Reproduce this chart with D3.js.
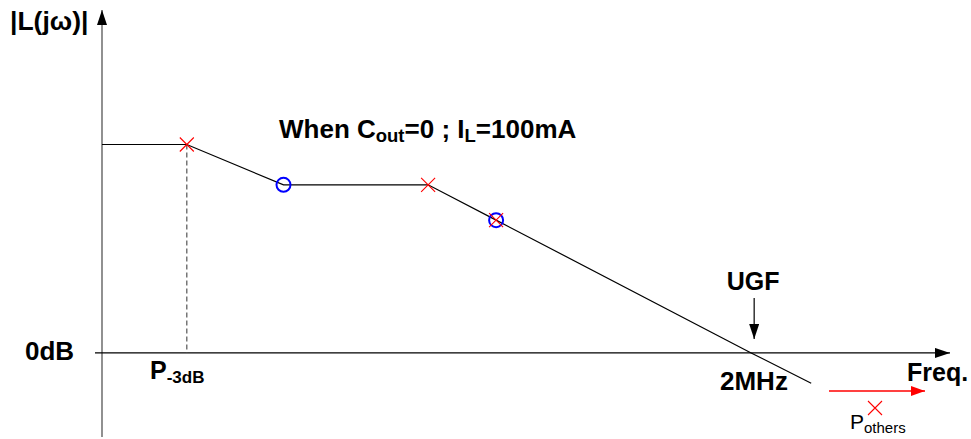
<!DOCTYPE html>
<html>
<head>
<meta charset="utf-8">
<script src="https://cdn.jsdelivr.net/npm/d3@7"></script>
<style>
  html, body { margin: 0; padding: 0; background: #fff; }
  svg { display: block; }
  text { font-family: "Liberation Sans", Arial, sans-serif; }
</style>
</head>
<body>
<script>
// Loop gain magnitude, straight-line asymptotes (frequency in Hz, gain in dB)
const freqs = [20, 90, 500, 6500, 21700, 2e6, 5.8e6];
const gains = [62, 62, 50, 50, 39.5, 0, -9];

// Poles (red crosses) and zeros (blue circles)
const poleFreqs = [90, 6500, 21700];
const zeroFreqs = [500, 21700];

const ugfFreq = 2e6;
const p3dbFreq = 90;

const W = 971, H = 439;
const svg = d3.select("body").append("svg").attr("width", W).attr("height", H);

const x = d3.scaleLog().domain([20, 6.8e7]).range([102, 950]);
const y = d3.scaleLinear().domain([-25, 102]).range([437, 10]);

const gainAt = f => {
  for (let i = 1; i < freqs.length; i++) {
    if (f <= freqs[i]) {
      const t = (Math.log10(f) - Math.log10(freqs[i - 1])) / (Math.log10(freqs[i]) - Math.log10(freqs[i - 1]));
      return gains[i - 1] + t * (gains[i] - gains[i - 1]);
    }
  }
  return gains[gains.length - 1];
};

const defs = svg.append("defs");
function marker(id, color, w, h) {
  defs.append("marker").attr("id", id)
    .attr("viewBox", `0 0 ${w} ${h}`).attr("refX", w).attr("refY", h / 2)
    .attr("markerWidth", w).attr("markerHeight", h).attr("markerUnits", "userSpaceOnUse")
    .attr("orient", "auto")
    .append("path").attr("d", `M0,0L${w},${h / 2}L0,${h}Z`).attr("fill", color);
}
marker("arrBlack", "#000", 15, 10);
marker("arrRed", "#f00", 14, 10);

const axisColor = "#555";

// Vertical axis
svg.append("line")
  .attr("x1", x(20)).attr("x2", x(20))
  .attr("y1", y(-25)).attr("y2", y(102))
  .attr("stroke", axisColor).attr("stroke-width", 1.3)
  .attr("marker-end", "url(#arrBlack)");

// Horizontal 0 dB axis
svg.append("line")
  .attr("x1", x(20) - 7).attr("x2", x(6.8e7))
  .attr("y1", y(0)).attr("y2", y(0))
  .attr("stroke", "#000").attr("stroke-width", 1.2)
  .attr("marker-end", "url(#arrBlack)");

// Dashed drop line at the -3dB pole
svg.append("line")
  .attr("x1", x(p3dbFreq)).attr("x2", x(p3dbFreq))
  .attr("y1", y(gainAt(p3dbFreq))).attr("y2", y(0))
  .attr("stroke", "#555").attr("stroke-width", 1.2)
  .attr("stroke-dasharray", "5,3");

// Asymptotic magnitude curve
const line = d3.line().x(d => x(d[0])).y(d => y(d[1]));
svg.append("path")
  .datum(freqs.map((f, i) => [f, gains[i]]))
  .attr("d", line)
  .attr("fill", "none").attr("stroke", "#000").attr("stroke-width", 1.2);

// Zeros
svg.selectAll(".zero").data(zeroFreqs).enter().append("circle")
  .attr("cx", d => x(d)).attr("cy", d => y(gainAt(d)))
  .attr("r", 7).attr("fill", "none").attr("stroke", "#00f").attr("stroke-width", 2);

// Poles
function cross(g, cx, cy, s) {
  g.append("path")
    .attr("d", `M${cx - s},${cy - s}L${cx + s},${cy + s}M${cx - s},${cy + s}L${cx + s},${cy - s}`)
    .attr("stroke", "#f00").attr("stroke-width", 1.1).attr("fill", "none");
}
poleFreqs.forEach(f => cross(svg, x(f), y(gainAt(f)), 7));

// Axis titles
svg.append("text").attr("x", 10).attr("y", 30)
  .attr("font-size", 26.5).attr("font-weight", "bold").text("|L(jω)|");
svg.append("text").attr("x", 907).attr("y", 381)
  .attr("font-size", 25).attr("font-weight", "bold").text("Freq.");
svg.append("text").attr("x", 25).attr("y", 360)
  .attr("font-size", 26).attr("font-weight", "bold").text("0dB");

// Condition caption
const cap = svg.append("text").attr("x", 279).attr("y", 138)
  .attr("font-size", 26).attr("font-weight", "bold");
cap.append("tspan").text("When C");
cap.append("tspan").attr("font-size", 18.5).attr("dy", 4).text("out");
cap.append("tspan").attr("dy", -4).text("=0 ; I");
cap.append("tspan").attr("font-size", 18.5).attr("dy", 4).text("L");
cap.append("tspan").attr("dy", -4).text("=100mA");

// -3dB pole label
const p3 = svg.append("text").attr("x", 150).attr("y", 379)
  .attr("font-size", 25).attr("font-weight", "bold");
p3.append("tspan").text("P");
p3.append("tspan").attr("font-size", 17).attr("dy", 4).text("-3dB");

// Unity-gain frequency
svg.append("text").attr("x", x(ugfFreq) + 2).attr("y", 290)
  .attr("text-anchor", "middle").attr("font-size", 25).attr("font-weight", "bold").text("UGF");
svg.append("line")
  .attr("x1", x(ugfFreq) + 3).attr("x2", x(ugfFreq) + 3)
  .attr("y1", 298).attr("y2", 339)
  .attr("stroke", "#000").attr("stroke-width", 1.2)
  .attr("marker-end", "url(#arrBlack)");
svg.append("text").attr("x", 720).attr("y", 390)
  .attr("font-size", 26).attr("font-weight", "bold").text("2MHz");

// Remaining high-frequency poles
svg.append("line")
  .attr("x1", 829).attr("x2", 925).attr("y1", 391).attr("y2", 391)
  .attr("stroke", "#f00").attr("stroke-width", 1.3)
  .attr("marker-end", "url(#arrRed)");
cross(svg, 875, 408, 7);
const po = svg.append("text").attr("x", 850).attr("y", 429).attr("font-size", 21);
po.append("tspan").text("P");
po.append("tspan").attr("font-size", 15).attr("dy", 4).text("others");
</script>
</body>
</html>
